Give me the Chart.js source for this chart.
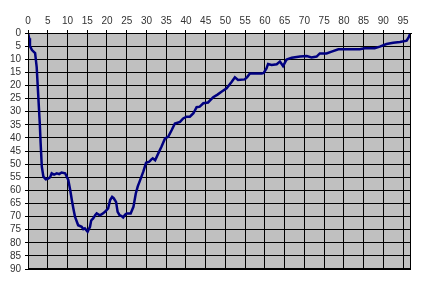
<!DOCTYPE html>
<html>
<head>
<meta charset="utf-8">
<script src="https://cdn.jsdelivr.net/npm/chart.js@4"></script>
<style>
  html, body { margin: 0; padding: 0; background: #fff; }
  #wrap { width: 425px; height: 295px; }
</style>
</head>
<body>
<div id="wrap"><canvas id="chart"></canvas></div>
<script>
  // values (x along the top axis, y down the reversed axis)
  const xValues = [
    0, 0.3, 0.5, 1.0, 1.8, 2.2, 2.6, 3.0, 3.2, 3.5, 3.9, 4.5, 5.1, 5.6, 6.0, 6.6, 7.3, 7.9, 8.5, 9.4,
    10.2, 10.7, 11.1, 11.5, 11.9, 12.7, 13.6, 14.0, 14.4, 15.1, 15.7, 16.0, 16.5, 17.0, 17.4, 18.2,
    18.8, 19.5, 20.3, 20.8, 21.3, 21.7, 22.3, 22.7, 23.2, 23.7, 24.1, 24.6, 25.0, 26.0, 26.7, 27.3,
    27.8, 28.4, 29.2, 29.9, 30.7, 31.2, 31.6, 32.2, 33.0, 33.8, 34.7, 35.5, 36.4, 37.2, 38.5, 39.3,
    40.2, 41.0, 41.9, 42.7, 43.5, 44.4, 45.6, 46.9, 48.0, 49.0, 50.3, 51.6, 52.4, 53.2, 54.9, 55.5,
    56.2, 59.2, 59.7, 60.4, 60.8, 61.7, 63.0, 63.8, 64.6, 65.5, 66.8, 68.9, 70.6, 71.8, 73.1, 73.9,
    75.6, 76.9, 78.6, 84.0, 85.3, 87.8, 89.1, 90.8, 92.5, 94.2, 95.9, 96.5, 96.8
  ];
  const yValues = [
    0, 2, 5, 6.5, 7.7, 13, 24, 35, 42, 51, 54.8, 55.8, 55.5, 55, 53.5, 54, 53.5, 53.8, 53.2, 53.5,
    56, 60, 63.7, 67, 70, 73.3, 73.9, 74.8, 74.5, 75.8, 73.9, 71.5, 70.7, 69.5, 68.8, 69.5,
    69, 68.2, 66.9, 63.7, 62.5, 63, 64.4, 68.2, 69.5, 69.8, 70.3, 69.3, 68.8, 68.8, 66.3, 61.2,
    58.5, 56.1, 52.9, 49.5, 49.1, 48.3, 47.8, 48.5, 45.9, 43.4, 40.2, 39.6, 37.0, 34.5, 33.9, 32.6,
    31.9, 31.9, 30.6, 28.3, 28.1, 26.8, 26.5, 24.5, 23.5, 22.4, 21.1, 18.6, 16.9, 17.9, 17.7, 16.8,
    15.4, 15.4, 15.2, 13.5, 11.8, 12.2, 11.9, 10.9, 12.6, 10.1, 9.4, 9.0, 8.8, 9.3, 9.0, 7.8,
    7.8, 7.1, 6.2, 6.2, 5.8, 5.8, 5.2, 4.2, 3.7, 3.4, 2.9, 1.4, 0.2
  ];
  const xTicks = [0, 5, 10, 15, 20, 25, 30, 35, 40, 45, 50, 55, 60, 65, 70, 75, 80, 85, 90, 95];
  const yTicks = [0, 5, 10, 15, 20, 25, 30, 35, 40, 45, 50, 55, 60, 65, 70, 75, 80, 85, 90];

  const points = xValues.map((x, i) => ({ x: x, y: yValues[i] }));

  // grey plot area with a black frame, like the old spreadsheet look
  const plotArea = {
    id: "plotArea",
    beforeDraw(chart) {
      const { ctx, chartArea: a } = chart;
      ctx.save();
      ctx.fillStyle = "#c0c0c0";
      ctx.fillRect(a.left, a.top, a.right - a.left, a.bottom - a.top);
      ctx.restore();
    },
    afterDatasetsDraw(chart) {
      const { ctx, chartArea: a } = chart;
      ctx.save();
      ctx.strokeStyle = "#000";
      ctx.lineWidth = 1;
      ctx.strokeRect(a.left + 0.5, a.top + 0.5, a.right - a.left - 1, a.bottom - a.top - 1);
      ctx.restore();
    },
  };

  const tickFont = { family: "'Liberation Sans', Arial, sans-serif", size: 10 };

  new Chart(document.getElementById("chart"), {
    type: "scatter",
    data: {
      datasets: [
        {
          data: points,
          showLine: true,
          borderColor: "#000080",
          borderWidth: 2.5,
          pointRadius: 0,
          tension: 0,
        },
      ],
    },
    options: {
      responsive: true,
      maintainAspectRatio: false,
      animation: false,
      layout: { padding: { top: 0, left: 0, right: 14, bottom: 26 } },
      plugins: { legend: { display: false }, tooltip: { enabled: false } },
      scales: {
        x: {
          type: "linear",
          position: "top",
          min: 0,
          max: 97,
          afterBuildTicks(scale) {
            scale.ticks = xTicks.map((v) => ({ value: v }));
          },
          afterFit(scale) {
            scale.height = 33;
          },
          grid: { color: "#000", lineWidth: 1, tickLength: 3, drawTicks: true },
          border: { color: "#000" },
          ticks: { color: "#333", font: tickFont, padding: 3, maxRotation: 0, autoSkip: false },
        },
        y: {
          type: "linear",
          reverse: true,
          min: 0,
          max: 90,
          afterBuildTicks(scale) {
            scale.ticks = yTicks.map((v) => ({ value: v }));
          },
          afterFit(scale) {
            scale.width = 28;
          },
          grid: { color: "#000", lineWidth: 1, tickLength: 3 },
          border: { color: "#000" },
          ticks: { color: "#333", font: tickFont, padding: 4, autoSkip: false },
        },
      },
    },
    plugins: [plotArea],
  });
</script>
</body>
</html>
